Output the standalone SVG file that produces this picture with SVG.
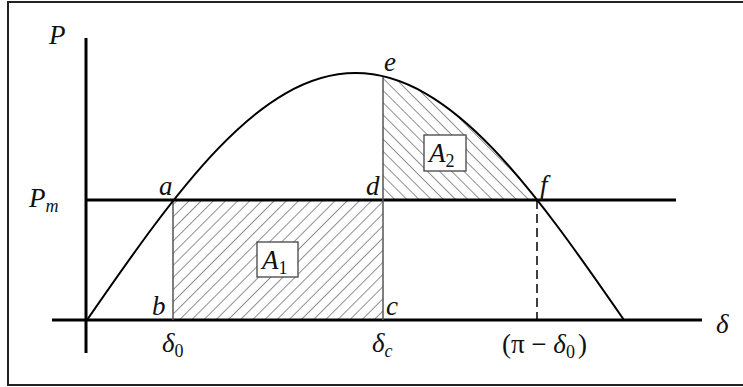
<svg xmlns="http://www.w3.org/2000/svg" width="743" height="387" viewBox="0 0 743 387">
<style>
.lbl{font-family:"Liberation Serif","DejaVu Serif",serif;font-style:italic;font-size:27px;fill:#111}
.sub{font-size:18px}
.up{font-style:normal}
.axis{stroke:#000;stroke-width:3;fill:none}
.thin{stroke:#555;stroke-width:1.5;fill:none}
.box{fill:#fff;stroke:#444;stroke-width:1.3}
</style>
<defs>
<pattern id="hatchA1" width="8.6" height="8.6" patternUnits="userSpaceOnUse" patternTransform="rotate(45)">
<line x1="0" y1="0" x2="0" y2="8.6" stroke="#222" stroke-width="1"/>
</pattern>
<pattern id="hatchA2" width="8.6" height="8.6" patternUnits="userSpaceOnUse" patternTransform="rotate(-45)">
<line x1="0" y1="0" x2="0" y2="8.6" stroke="#222" stroke-width="1"/>
</pattern>
<clipPath id="under">
<path d="M87,320 C175.9,191.6 258.8,73 355.5,73 C452.2,73 535.1,191.6 624,320 Z"/>
</clipPath>
</defs>
<rect x="8" y="2" width="745" height="383" fill="#fff" stroke="#222" stroke-width="2"/>
<g id="regions">
<rect id="A1-region" x="173" y="200" width="210" height="120" fill="url(#hatchA1)"/>
<rect id="A2-region" x="383" y="60" width="160" height="140" fill="url(#hatchA2)" clip-path="url(#under)"/>
</g>
<g id="connectors">
<line class="axis" x1="86" y1="38" x2="86" y2="353"/>
<line class="axis" x1="52" y1="320" x2="702" y2="320"/>
<line class="axis" x1="86" y1="200" x2="676" y2="200"/>
<line class="thin" x1="173" y1="200" x2="173" y2="320"/>
<line class="thin" x1="383" y1="76" x2="383" y2="320"/>
<line stroke="#000" stroke-width="1.5" stroke-dasharray="9,5" x1="537" y1="200" x2="537" y2="320"/>
<path id="curve" d="M87,320 C175.9,191.6 258.8,73 355.5,73 C452.2,73 535.1,191.6 624,320" fill="none" stroke="#000" stroke-width="2"/>
</g>
<g id="A1">
<rect class="box" x="257" y="242" width="41" height="35"/>
<text class="lbl" x="262" y="269">A<tspan class="sub up" dy="5">1</tspan></text>
</g>
<g id="A2">
<rect class="box" x="424" y="135" width="42" height="36"/>
<text class="lbl" x="429" y="162">A<tspan class="sub up" dy="5">2</tspan></text>
</g>
<g id="labels">
<text class="lbl" x="49" y="44">P</text>
<text class="lbl" x="29" y="207">P<tspan class="sub" dy="5">m</tspan></text>
<text class="lbl" x="159" y="195">a</text>
<text class="lbl" x="366" y="195">d</text>
<text class="lbl" x="384" y="71">e</text>
<text class="lbl" x="540" y="194">f</text>
<text class="lbl" x="152" y="315">b</text>
<text class="lbl" x="386" y="315">c</text>
<text class="lbl" x="162" y="352">δ<tspan class="sub up" dy="5">0</tspan></text>
<text class="lbl" x="372" y="352">δ<tspan class="sub" dy="5">c</tspan></text>
<text class="lbl" x="502" y="353"><tspan class="up">(π  −  </tspan>δ<tspan class="sub up" dy="5">0</tspan><tspan class="up" dx="3" dy="-5">)</tspan></text>
<text class="lbl" x="716" y="333">δ</text>
</g>
</svg>
